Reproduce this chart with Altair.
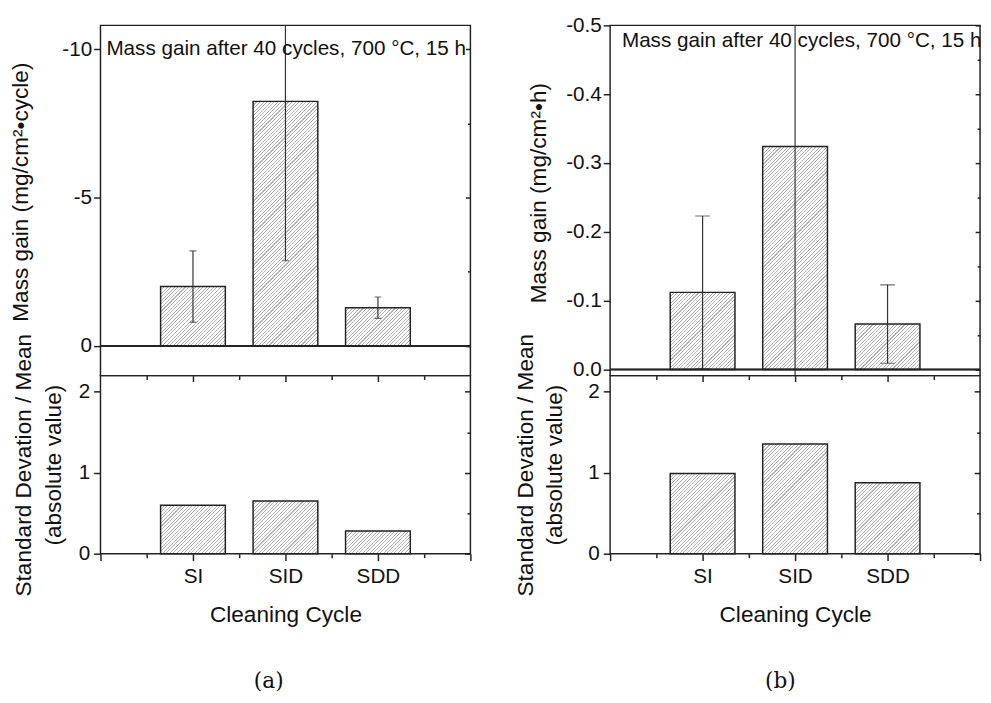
import altair as alt
import pandas as pd

# ---- data ----
categories = ["SI", "SID", "SDD"]
positions = [1, 2, 3]
cycle_mean = [-2.0, -8.24, -1.29]      # mg/cm2 per cycle
cycle_err = [1.2, 5.37, 0.36]
cycle_ratio = [0.60, 0.65, 0.28]       # SD / mean (abs)
hour_mean = [-0.112, -0.324, -0.066]   # mg/cm2 per h
hour_err = [0.111, 0.44, 0.057]
hour_ratio = [0.99, 1.354, 0.876]

note = "Mass gain after 40 cycles, 700 °C, 15 h"

FONT = "Liberation Sans"
INK = "#222222"
HATCH = "#b2b2b2"
W, H_TOP, H_BOT = 376, 356, 181
BAR_HALF = 0.35
MINUS = "\u2212"

label_x = " : ".join(f"datum.value == {p} ? '{c}'" for p, c in zip(positions, categories)) + " : ''"


def fmt_expr(f):
    return f"replace(format(datum.value, '{f}'), '{MINUS}', '-')"


def hatch(w, h, period=3.6, frac=0.3):
    """Diagonal '////' hatch as a bounding-box linear gradient for a w x h px rect."""
    w = max(w, 1.0)
    h = max(h, 1.0)
    t = (1 / h + 1 / w) / (1 / h ** 2 + 1 / w ** 2)
    n = max(int(round((w + h) / period)), 1)
    stops = []
    for i in range(n):
        a = i / n
        b = (i + frac) / n
        c = (i + 1) / n
        stops += [
            {"offset": a, "color": HATCH},
            {"offset": b, "color": HATCH},
            {"offset": b, "color": "#ffffff"},
            {"offset": c, "color": "#ffffff"},
        ]
    return {"gradient": "linear", "x1": 0, "y1": 0, "x2": t / h, "y2": t / w, "stops": stops}


def tick_axis(orient, values, size, offset=0):
    return alt.Axis(orient=orient, values=values, tickSize=size, offset=offset,
                    labels=False, domain=False, grid=False, title=None)


def bar_layers(df, field, xs, ys, span, height, xaxis, yaxis):
    layers = []
    for i, cat in enumerate(categories):
        v = df.loc[df["cat"] == cat, field].iloc[0]
        w = 2 * BAR_HALF * W / 4
        h = abs(v) * height / span
        layers.append(
            alt.Chart(df).transform_filter(alt.datum.cat == cat).transform_calculate(
                x0=f"datum.pos - {BAR_HALF}", x1=f"datum.pos + {BAR_HALF}"
            ).mark_bar(fill=hatch(w, h), stroke=INK, strokeWidth=1.5).encode(
                x=alt.X("x0:Q", scale=xs, axis=xaxis if i == 0 else None),
                x2="x1:Q",
                y=alt.Y(f"{field}:Q", scale=ys, axis=yaxis if i == 0 else None),
                y2=alt.Y2Datum(0),
            )
        )
    return layers


def top_panel(mean, err, ydomain, left_vals, right_major, right_minor, fmt,
              title, title_x, title_y, cap, note_x, note_y):
    df = pd.DataFrame({"cat": categories, "pos": positions, "mean": mean, "err": err})
    base = alt.Chart(df)
    xs = alt.Scale(domain=[0, 4], nice=False, zero=False)
    ys = alt.Scale(domain=ydomain, reverse=True, nice=False, zero=False)
    yaxis = alt.Axis(
        orient="left", values=left_vals, tickSize=7, labelPadding=2,
        labelExpr=fmt_expr(fmt), domain=False, grid=False, title=title,
        titleX=title_x, titleY=title_y, titleBaseline="middle", titleAlign="center")
    bars = bar_layers(df, "mean", xs, ys, ydomain[1] - ydomain[0], H_TOP, None, yaxis)

    errs = base.transform_calculate(
        lo="datum.mean - datum.err", hi="datum.mean + datum.err"
    )
    rules = errs.mark_rule(color="#333333", strokeWidth=1.2, clip=True).encode(
        x=alt.X("pos:Q", scale=xs, axis=None),
        y=alt.Y("lo:Q", scale=ys, axis=None),
        y2="hi:Q",
    )
    caps = errs.transform_fold(["lo", "hi"], as_=["end", "v"]).mark_tick(
        orient="horizontal", size=cap, thickness=1.2, color="#333333", clip=True
    ).encode(
        x=alt.X("pos:Q", scale=xs, axis=None),
        y=alt.Y("v:Q", scale=ys, axis=None),
    )
    zero = base.mark_rule(color=INK, strokeWidth=1.5).encode(
        y=alt.YDatum(0, scale=ys, axis=None)
    )
    ax1 = base.mark_point(opacity=0).encode(
        x=alt.X("pos:Q", scale=xs, axis=None),
        y=alt.Y("mean:Q", scale=ys, axis=tick_axis("right", right_major, 5, -5)),
    )
    ax2 = base.mark_point(opacity=0).encode(
        x=alt.X("pos:Q", scale=xs, axis=None),
        y=alt.Y("mean:Q", scale=ys, axis=tick_axis("right", right_minor, 3, -3)),
    )
    txt = alt.Chart(pd.DataFrame({"t": [note]})).mark_text(
        align="left", baseline="middle", font=FONT, fontSize=21, color="#111111"
    ).encode(x=alt.value(note_x), y=alt.value(note_y), text="t:N")

    return alt.layer(*bars, rules, caps, zero, ax1, ax2, txt).resolve_axis(
        x="independent", y="independent"
    ).properties(width=W, height=H_TOP)


def bottom_panel(ratio, title_x, tag, tag_x):
    df = pd.DataFrame({"cat": categories, "pos": positions, "ratio": ratio})
    base = alt.Chart(df)
    xs = alt.Scale(domain=[0, 4], nice=False, zero=False)
    ys = alt.Scale(domain=[0, 2.2], nice=False, zero=False)
    xaxis = alt.Axis(
        orient="bottom", values=[0, 1, 2, 3, 4], tickSize=7, labelPadding=5,
        labelExpr=label_x, domain=False, grid=False, title="Cleaning Cycle",
        titlePadding=18)
    yaxis = alt.Axis(
        orient="left", values=[0, 1, 2], tickSize=7, labelPadding=4,
        domain=False, grid=False,
        title=["Standard Devation / Mean", "(absolute value)"],
        titleLineHeight=30, titleX=title_x, titleY=H_BOT / 2,
        titleBaseline="middle", titleAlign="center")
    bars = bar_layers(df, "ratio", xs, ys, 2.2, H_BOT, xaxis, yaxis)

    ax1 = base.mark_point(opacity=0).encode(
        x=alt.X("pos:Q", scale=xs, axis=tick_axis("bottom", [0.5, 1.5, 2.5, 3.5], 4)),
        y=alt.Y("ratio:Q", scale=ys, axis=tick_axis("right", [0, 1, 2], 6, -6)),
    )
    ax2 = base.mark_point(opacity=0).encode(
        x=alt.X("pos:Q", scale=xs, axis=tick_axis("top", [1, 2, 3], 6, -6)),
        y=alt.Y("ratio:Q", scale=ys, axis=tick_axis("right", [0.5, 1.5], 3.5, -3.5)),
    )
    ax3 = base.mark_point(opacity=0).encode(
        x=alt.X("pos:Q", scale=xs, axis=tick_axis("top", [0.5, 1.5, 2.5, 3.5], 4, -4)),
        y=alt.Y("ratio:Q", scale=ys, axis=None),
    )
    lab = alt.Chart(pd.DataFrame({"t": [tag]})).mark_text(
        align="center", baseline="middle", font="DejaVu Serif", fontSize=22, color="#111111"
    ).encode(x=alt.value(tag_x), y=alt.value(310), text="t:N")

    return alt.layer(*bars, ax1, ax2, ax3, lab).resolve_axis(
        x="independent", y="independent"
    ).properties(width=W, height=H_BOT)


tl = top_panel(cycle_mean, cycle_err, [-10.8, 1], [-10, -5, 0], [-10, -5, 0],
               [-7.5, -2.5], "d", "Mass gain (mg/cm²•cycle)", -81, 169, 7, 6, 24)
tr = top_panel(hour_mean, hour_err, [-0.5, 0.009],
               [-0.5, -0.4, -0.3, -0.2, -0.1, 0.0],
               [-0.5, -0.4, -0.3, -0.2, -0.1, 0.0],
               [-0.45, -0.35, -0.25, -0.15, -0.05], ".1f",
               "Mass gain (mg/cm²•h)", -73, 170, 15, 12, 16)
bl = bottom_panel(cycle_ratio, -78, "(a)", 171)
br = bottom_panel(hour_ratio, -86, "(b)", 173)

chart = alt.concat(
    tl, tr, bl, br, columns=2, spacing={"row": 0, "column": 142}, bounds="flush"
).properties(
    padding={"left": 1, "top": 0, "right": 0, "bottom": 0}
).configure_view(
    stroke=INK, strokeWidth=1.5
).configure_axis(
    labelFont=FONT, labelFontSize=21, labelColor="#111111",
    titleFont=FONT, titleFontSize=23, titleFontWeight="normal", titleColor="#111111",
    tickColor=INK, tickWidth=1.5,
)

chart.save("out.html", embed_options={"renderer": "svg", "actions": False})
